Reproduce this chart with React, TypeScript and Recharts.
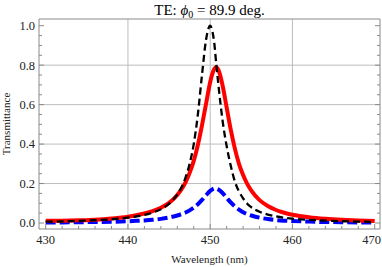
import React from 'react';
import { LineChart, Line, XAxis, YAxis, ReferenceLine } from 'recharts';

// wavelength samples (nm) and transmittance
const wavelength = [
  430, 432, 434, 436, 438, 440, 441, 442, 443, 444, 445, 446, 446.5, 447, 447.5, 448, 448.5, 449,
  449.5, 450, 450.25, 450.5, 450.75, 451, 451.5, 452, 452.5, 453, 453.5, 454, 454.5, 455, 456, 457,
  458, 459, 460, 462, 464, 466, 468, 470,
];
const blackT = [
  0.007, 0.008, 0.011, 0.014, 0.019, 0.027, 0.033, 0.041, 0.053, 0.07, 0.098, 0.145, 0.18, 0.23,
  0.3, 0.4, 0.55, 0.75, 0.93, 1.0, 0.975, 0.91, 0.8, 0.7, 0.52, 0.39, 0.29, 0.21, 0.16, 0.125,
  0.098, 0.08, 0.057, 0.043, 0.034, 0.027, 0.022, 0.016, 0.012, 0.009, 0.007, 0.006,
];
const redT = [
  0.011, 0.012, 0.014, 0.017, 0.023, 0.032, 0.039, 0.048, 0.06, 0.077, 0.102, 0.142, 0.17, 0.206,
  0.254, 0.315, 0.395, 0.495, 0.605, 0.715, 0.755, 0.782, 0.79, 0.776, 0.698, 0.586, 0.473, 0.377,
  0.3, 0.243, 0.198, 0.164, 0.116, 0.086, 0.066, 0.052, 0.042, 0.029, 0.021, 0.016, 0.013, 0.01,
];
const blueT = [
  0.003, 0.003, 0.004, 0.005, 0.006, 0.009, 0.011, 0.013, 0.016, 0.021, 0.028, 0.038, 0.045, 0.053,
  0.064, 0.078, 0.095, 0.117, 0.141, 0.163, 0.17, 0.175, 0.174, 0.17, 0.152, 0.128, 0.104, 0.084,
  0.068, 0.055, 0.045, 0.038, 0.027, 0.02, 0.015, 0.012, 0.01, 0.007, 0.005, 0.004, 0.003, 0.003,
];

const xTicks = [
  430, 432, 434, 436, 438, 440, 442, 444, 446, 448, 450, 452, 454, 456, 458, 460, 462, 464, 466, 468, 470,
];
const xMajor = [430, 440, 450, 460, 470];
const xGrid = [440, 450, 460];
const yTicks = [
  0, 0.05, 0.1, 0.15, 0.2, 0.25, 0.3, 0.35, 0.4, 0.45, 0.5, 0.55, 0.6, 0.65, 0.7, 0.75, 0.8, 0.85,
  0.9, 0.95, 1.0,
];
const yMajor = [0, 0.2, 0.4, 0.6, 0.8, 1.0];
const yGrid = [0.2, 0.4, 0.6, 0.8];

const xDomain = [429.185, 470.645];
const yDomain = [-0.0304, 1.034];

const data = wavelength.map((w, i) => ({ w, black: blackT[i], red: redT[i], blue: blueT[i] }));

const FONT = '"Liberation Serif", "Times New Roman", serif';
const FRAME = '#8a8a8a';
const GRID = '#bdbdbd';
const W = 382;
const H = 267;

const isMajor = (v: number, majors: number[]) => majors.some((m) => Math.abs(m - v) < 1e-6);

// Mathematica-style frame ticks pointing into the plot
const FrameTick = (props: any) => {
  const { x, y, payload, side } = props;
  const v = payload.value;
  const major = isMajor(v, side === 'bottom' || side === 'top' ? xMajor : yMajor);
  const len = major ? 5 : 3;
  let line;
  let label = null;
  if (side === 'bottom') {
    line = <line x1={x} y1={y} x2={x} y2={y - len} stroke={FRAME} />;
    // keep the last label inside the picture
    const nearEdge = x + 9 > W;
    if (major)
      label = (
        <text
          x={nearEdge ? W - 1 : x}
          y={y + 15}
          textAnchor={nearEdge ? 'end' : 'middle'}
          fontSize={12.5}
          fontFamily={FONT}
          fill="#222"
        >
          {v}
        </text>
      );
  } else if (side === 'top') {
    line = <line x1={x} y1={y} x2={x} y2={y + len} stroke={FRAME} />;
  } else if (side === 'left') {
    line = <line x1={x} y1={y} x2={x + len} y2={y} stroke={FRAME} />;
    if (major)
      label = (
        <text x={x - 4} y={y} dy="0.35em" textAnchor="end" fontSize={12.5} fontFamily={FONT} fill="#222">
          {v.toFixed(1)}
        </text>
      );
  } else {
    line = <line x1={x} y1={y} x2={x - len} y2={y} stroke={FRAME} />;
  }
  return (
    <g>
      {line}
      {label}
    </g>
  );
};

const titleLabel = (props: any) => {
  const vb = props.viewBox;
  return (
    <text x={vb.x + vb.width / 2} y={15} textAnchor="middle" fontSize={15} fontFamily={FONT} fill="#000">
      {'TE: '}
      <tspan fontStyle="italic">ϕ</tspan>
      <tspan fontSize={10} dy={3}>0</tspan>
      <tspan dy={-3}>{' = 89.9 deg.'}</tspan>
    </text>
  );
};

const xLabel = (props: any) => {
  const vb = props.viewBox;
  return (
    <text x={vb.x + vb.width / 2} y={vb.y + vb.height - 4} textAnchor="middle" fontSize={11} fontFamily={FONT} fill="#222">
      Wavelength (nm)
    </text>
  );
};

const yLabel = (props: any) => {
  const vb = props.viewBox;
  const cx = vb.x + 9.5;
  const cy = vb.y + vb.height / 2;
  return (
    <text x={cx} y={cy} transform={`rotate(-90, ${cx}, ${cy})`} textAnchor="middle" fontSize={11} fontFamily={FONT} fill="#222">
      Transmittance
    </text>
  );
};

export default function App() {
  return (
    <div style={{ position: 'absolute', left: 0, top: 0, width: W, height: H, background: '#fff', fontFamily: FONT }}>
      <LineChart width={W} height={H} data={data} margin={{ top: 0, right: 0, bottom: 0, left: 0 }}>
        <XAxis
          xAxisId="b"
          dataKey="w"
          type="number"
          domain={xDomain}
          allowDataOverflow
          ticks={xTicks}
          interval={0}
          height={38}
          tickSize={0}
          tickMargin={0}
          tickLine={false}
          axisLine={{ stroke: FRAME }}
          tick={(p: any) => <FrameTick {...p} side="bottom" />}
          label={xLabel}
        />
        <XAxis
          xAxisId="t"
          orientation="top"
          type="number"
          domain={xDomain}
          allowDataOverflow
          ticks={xTicks}
          interval={0}
          height={19}
          tickSize={0}
          tickMargin={0}
          tickLine={false}
          axisLine={{ stroke: FRAME }}
          tick={(p: any) => <FrameTick {...p} side="top" />}
          label={titleLabel}
        />
        <YAxis
          yAxisId="l"
          type="number"
          domain={yDomain}
          allowDataOverflow
          ticks={yTicks}
          interval={0}
          width={39}
          tickSize={0}
          tickMargin={0}
          tickLine={false}
          axisLine={{ stroke: FRAME }}
          tick={(p: any) => <FrameTick {...p} side="left" />}
          label={yLabel}
        />
        <YAxis
          yAxisId="r"
          orientation="right"
          type="number"
          domain={yDomain}
          allowDataOverflow
          ticks={yTicks}
          interval={0}
          width={2}
          tickSize={0}
          tickMargin={0}
          tickLine={false}
          axisLine={{ stroke: FRAME }}
          tick={(p: any) => <FrameTick {...p} side="right" />}
        />
        {xGrid.map((g) => (
          <ReferenceLine key={`vx${g}`} x={g} xAxisId="b" yAxisId="l" stroke={GRID} strokeWidth={1} />
        ))}
        {yGrid.map((g) => (
          <ReferenceLine key={`hy${g}`} y={g} xAxisId="b" yAxisId="l" stroke={GRID} strokeWidth={1} />
        ))}
        <Line
          xAxisId="b"
          yAxisId="l"
          type="monotone"
          dataKey="blue"
          stroke="#0000ff"
          strokeWidth={4}
          strokeDasharray="10 4"
          dot={false}
          activeDot={false}
          isAnimationActive={false}
        />
        <Line
          xAxisId="b"
          yAxisId="l"
          type="monotone"
          dataKey="red"
          stroke="#ff0000"
          strokeWidth={4}
          dot={false}
          activeDot={false}
          isAnimationActive={false}
        />
        <Line
          xAxisId="b"
          yAxisId="l"
          type="monotone"
          dataKey="black"
          stroke="#000000"
          strokeWidth={2.3}
          strokeDasharray="7 4"
          dot={false}
          activeDot={false}
          isAnimationActive={false}
        />
      </LineChart>
    </div>
  );
}
